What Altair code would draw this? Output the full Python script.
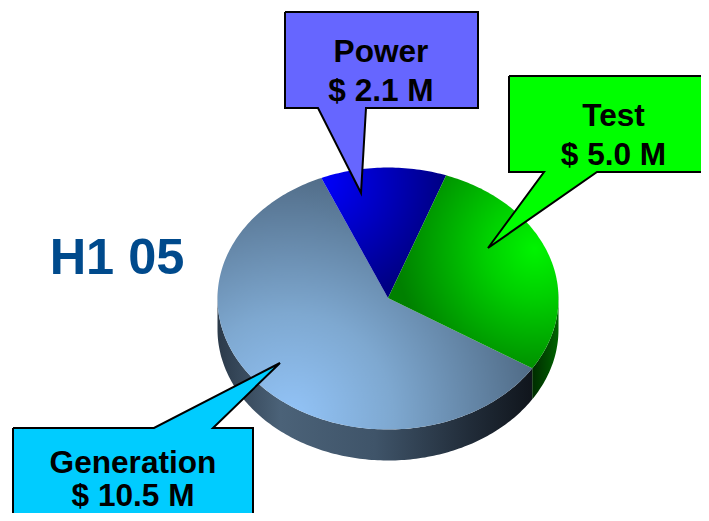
import numpy as np
import pandas as pd
import altair as alt

SEGMENTS = ["Generation", "Power", "Test"]
VALUES = [10.5, 2.1, 5.0]
LABELS = ["$ 10.5 M", "$ 2.1 M", "$ 5.0 M"]
PERIOD = "H1 05"

# pie geometry in page pixels
CX, CY, RX, RY, DEPTH = 388.0, 298.5, 170.5, 131.0, 31.0
START_DEG = -23.0  # where the Power slice starts, clockwise from 12 o'clock
APEX_Y = 298.0

total = sum(VALUES)
sweep = {s: v / total * 360.0 for s, v in zip(SEGMENTS, VALUES)}
a_power = (START_DEG, START_DEG + sweep["Power"])
a_test = (a_power[1], a_power[1] + sweep["Test"])
a_gen = (a_test[1], a_test[1] + sweep["Generation"])


def rim(a0, a1, dy=0.0):
    n = max(2, int(abs(a1 - a0)) + 1)
    t = np.radians(np.linspace(a0, a1, n))
    return list(CX + RX * np.sin(t)), list(CY - RY * np.cos(t) + dy)


def wedge(a0, a1):
    xs, ys = rim(a0, a1)
    return [CX] + xs + [CX], [APEX_Y] + ys + [APEX_Y]


def wall(a0, a1):
    x0, y0 = rim(a0, a1)
    x1, y1 = rim(a1, a0, DEPTH)
    return x0 + x1 + [x0[0]], y0 + y1 + [y0[0]]


X = alt.X("x:Q", axis=None, scale=alt.Scale(domain=[8, 701]))
Y = alt.Y("y:Q", axis=None, scale=alt.Scale(domain=[513, 8]))


def poly(xs, ys, fill, **kw):
    df = pd.DataFrame({"x": xs, "y": ys, "i": range(len(xs))})
    return alt.Chart(df).mark_line(fill=fill, clip=True, interpolate="linear", **kw).encode(
        x=X, y=Y, order="i:O"
    )


def stops(*pairs):
    return [{"offset": o, "color": c} for o, c in pairs]


def linear(*pairs):
    return {"gradient": "linear", "x1": 0, "y1": 0, "x2": 1, "y2": 0, "stops": stops(*pairs)}


def radial(cx, cy, r, *pairs):
    return {"gradient": "radial", "x1": cx, "y1": cy, "r1": 0, "x2": cx, "y2": cy, "r2": r,
            "stops": stops(*pairs)}


no_edge = dict(strokeWidth=0, strokeOpacity=0)

side_gen = poly(*wall(a_gen[0], 270.0),
                linear((0, "#2b3a4a"), (0.2, "#4b6278"), (0.5, "#3f5469"), (0.8, "#212c39"), (1, "#10151c")),
                **no_edge)
side_test = poly(*wall(90.0, a_test[1]),
                 linear((0, "#002c00"), (0.6, "#004c00"), (1, "#006400")), **no_edge)

top_gen = poly(*wedge(*a_gen),
               radial(0.23, 0.86, 0.82, (0, "#93c4f8"), (0.4, "#7ea8d0"), (1, "#4c6680")), **no_edge)
top_power = poly(*wedge(*a_power),
                 radial(0.0, 0.1, 1.0, (0, "#0000ff"), (0.5, "#0000c0"), (1, "#000080")), **no_edge)
top_test = poly(*wedge(*a_test),
                radial(0.82, 0.38, 0.72, (0, "#00f400"), (0.35, "#00d000"), (1, "#008000")), **no_edge)

edge = dict(stroke="#000000", strokeWidth=2)
box_power = poly([285, 478, 478, 366, 361, 318, 285, 285],
                 [12, 12, 108, 108, 193, 108, 108, 12], "#6666ff", **edge)
box_test = poly([509, 730, 730, 597, 488, 544, 509, 509],
                [76, 76, 172, 172, 248, 172, 172, 76], "#00ff00", **edge)
box_gen = poly([13, 154, 280, 213, 253, 253, 13, 13],
               [428, 428, 363, 428, 428, 540, 540, 428], "#00ccff", **edge)

TEXT_X = [381, 381, 613.5, 613.5, 133, 133]
TEXT_Y = [62, 101, 126, 165, 473, 506]
TEXT_S = [SEGMENTS[1], LABELS[1], SEGMENTS[2], LABELS[2], SEGMENTS[0], LABELS[0]]
labels = alt.Chart(pd.DataFrame({"x": TEXT_X, "y": TEXT_Y, "t": TEXT_S})).mark_text(
    font="Liberation Sans", fontWeight="bold", fontSize=31.6, align="center",
    baseline="alphabetic", color="#000000"
).encode(x=X, y=Y, text="t:N")

period = alt.Chart(pd.DataFrame({"x": [117], "y": [274], "t": [PERIOD]})).mark_text(
    font="Liberation Sans", fontWeight="bold", fontSize=50.5, align="center",
    baseline="alphabetic", color="#004a8c"
).encode(x=X, y=Y, text="t:N")

chart = alt.layer(
    side_gen, side_test, top_gen, top_power, top_test,
    box_power, box_test, box_gen, labels, period
).properties(width=693, height=505, padding=0, autosize=alt.AutoSizeParams(type="none"),
             background="#ffffff").configure_view(stroke=None)

chart.save("out.html", embed_options={"renderer": "svg", "actions": False})
